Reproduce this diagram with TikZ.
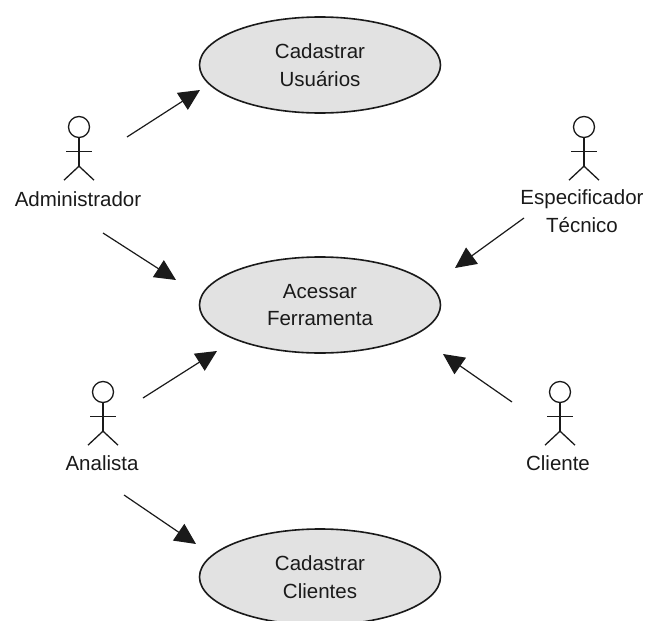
\documentclass[tikz,border=0pt]{standalone}
\usepackage{fontspec}
\setmainfont{Liberation Sans}
\usetikzlibrary{arrows.meta,shapes.geometric}
\definecolor{ucfill}{HTML}{E2E2E2}
\definecolor{ink}{HTML}{1A1A1A}
\tikzset{
  x=1pt,y=-1pt,
  usecase/.style={ellipse,draw=ink,line width=1.6pt,fill=ucfill,minimum width=241pt,minimum height=96pt,inner sep=0pt,align=center,font=\fontsize{20.5}{27.5}\selectfont,text=ink},
  actorlabel/.style={align=center,font=\fontsize{20.5}{28}\selectfont,text=ink,inner sep=0pt},
  head/.style={circle,draw=ink,line width=1.3pt,minimum size=21pt,inner sep=0pt},
  limb/.style={draw=ink,line width=1.3pt},
  assoc/.style={draw=ink,line width=1.2pt,-{Triangle[length=21pt,width=20pt]}},
}
\newcommand{\stickman}[2]{%
  \node[head] (#1) at (#2) {};
  \coordinate (#1b) at ([yshift=-28pt]#1.south);
  \draw[limb] (#1.south) -- (#1b);
  \draw[limb] ([xshift=-13pt,yshift=-13pt]#1.south) -- ([xshift=13pt,yshift=-13pt]#1.south);
  \draw[limb] ([xshift=-15pt,yshift=-42pt]#1.south) -- (#1b) -- ([xshift=15pt,yshift=-42pt]#1.south);
}
\begin{document}
\begin{tikzpicture}
\useasboundingbox (0,0) rectangle (646,621);
\begin{scope}
\clip (0,0) rectangle (646,621);
\node[usecase] (cu) at (320,65) {Cadastrar\\Usuários};
\node[usecase] (af) at (320,305) {Acessar\\Ferramenta};
\node[usecase] (cc) at (320,577) {Cadastrar\\Clientes};
\end{scope}
\stickman{adm}{79,127}
\stickman{esp}{584,127}
\stickman{ana}{103,392}
\stickman{cli}{560,392}
\node[actorlabel] (admt) at (78,199) {Administrador};
\node[actorlabel] (espt) at (582,211) {Especificador\\Técnico};
\node[actorlabel] (anat) at (102,463) {Analista};
\node[actorlabel] (clit) at (558,463) {Cliente};
\coordinate (a1s) at (127,137); \coordinate (a1e) at (200,90);
\coordinate (a2s) at (103,233); \coordinate (a2e) at (176,280);
\coordinate (a3s) at (524,218); \coordinate (a3e) at (455,268);
\coordinate (a4s) at (143,398); \coordinate (a4e) at (217,351);
\coordinate (a5s) at (512,402); \coordinate (a5e) at (443,354);
\coordinate (a6s) at (124,495); \coordinate (a6e) at (196,544);
\draw[assoc] (a1s) -- (a1e);
\draw[assoc] (a2s) -- (a2e);
\draw[assoc] (a3s) -- (a3e);
\draw[assoc] (a4s) -- (a4e);
\draw[assoc] (a5s) -- (a5e);
\draw[assoc] (a6s) -- (a6e);
\end{tikzpicture}
\end{document}
